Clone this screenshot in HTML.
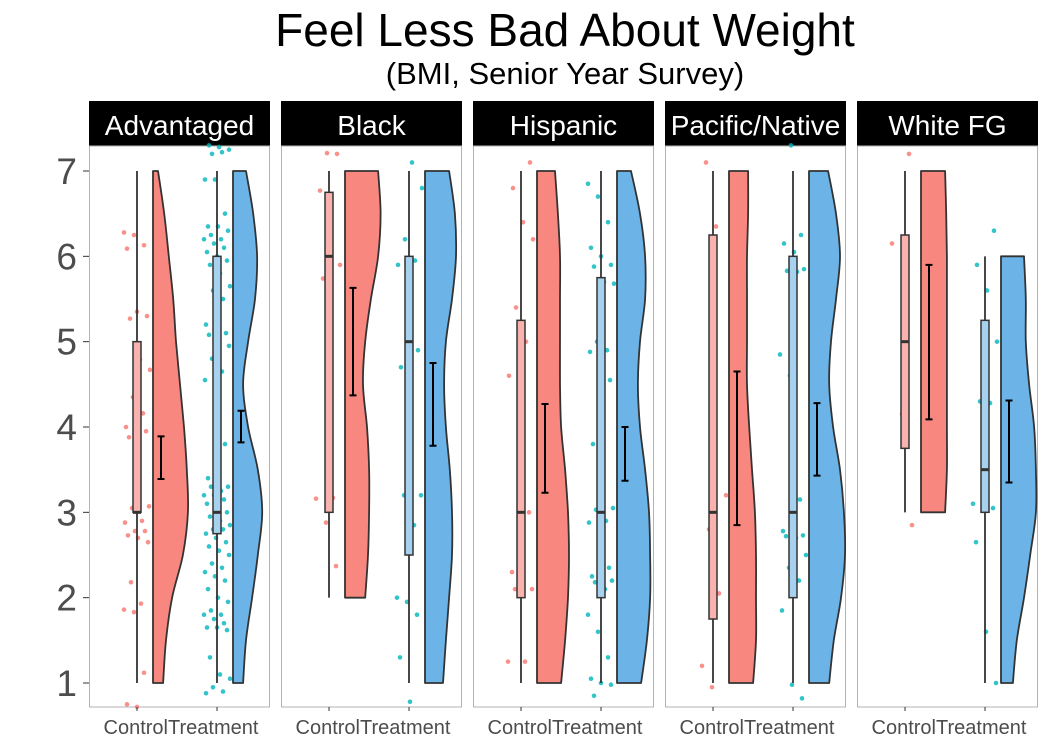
<!DOCTYPE html>
<html><head><meta charset="utf-8"><style>
body{margin:0;background:#fff;}
svg{display:block;font-family:"Liberation Sans",sans-serif;}
</style></head><body>
<svg id="chart" width="1050" height="750" viewBox="0 0 1050 750">
<text x="565" y="46" font-size="46" text-anchor="middle" fill="#000">Feel Less Bad About Weight</text>
<text x="565" y="84" font-size="31" text-anchor="middle" fill="#000">(BMI, Senior Year Survey)</text>
</svg>
<script>
const panels = ["Advantaged","Black","Hispanic","Pacific/Native","White FG"];
const groups = ["Control","Treatment"];
const yTicks = [1,2,3,4,5,6,7];
const densLevels = [7,6.5,6,5.5,5,4.5,4,3.5,3,2.5,2,1.5,1];
const densControl = [
 [.14,.31,.44,.56,.64,.75,.86,.94,.97,.83,.53,.36,.28],
 [.92,.99,.92,.72,.56,.5,.61,.67,.67,.64,.56,null,null],
 [.5,.58,.64,.64,.64,.64,.67,.78,.86,.89,.86,.78,.67],
 [.53,.53,.5,.5,.5,.5,.56,.64,.72,.75,.75,.75,.67],
 [.67,.7,.72,.72,.72,.72,.72,.72,.67,null,null,null,null]];
const densTreatment = [
 [.36,.56,.67,.61,.42,.28,.42,.69,.81,.69,.53,.36,.28],
 [.67,.83,.86,.75,.58,.53,.58,.69,.75,.75,.67,.58,.5],
 [.39,.64,.78,.78,.64,.58,.64,.78,.89,.92,.92,.83,.67],
 [.53,.75,.86,.75,.61,.56,.67,.86,.97,1,.89,.69,.56],
 [null,null,.64,.69,.69,.78,.92,.97,.97,.81,.64,.44,.33]];
// box stats: [min, q1, median, q3, max]
const boxControl = [[1,3,3,5,7],[2,3,6,6.75,7],[1,2,3,5.25,7],[1,1.75,3,6.25,7],[3,3.75,5,6.25,7]];
const boxTreatment = [[1,2.75,3,6,7],[1,2.5,5,6,7],[1,2,3,5.75,7],[1,2,3,6,7],[1,3,3.5,5.25,6]];
// mean CI: [low, high]
const ciControl = [[3.39,3.89],[4.37,5.63],[3.23,4.27],[2.85,4.65],[4.09,5.9]];
const ciTreatment = [[3.82,4.19],[3.78,4.75],[3.37,4.0],[3.43,4.28],[3.35,4.31]];
const ptsControl = [
 [6.28,6.25,6.13,6.09,5.35,5.3,5.27,4.79,4.67,4.35,4.16,4.0,3.99,3.95,3.88,3.32,3.07,3.05,2.9,2.88,2.78,2.78,2.73,2.7,2.65,2.18,1.93,1.86,1.83,1.12,0.75,0.72],
 [7.21,7.2,6.77,6.0,5.9,5.74,3.17,3.16,2.88,2.37],
 [7.1,6.8,6.4,6.2,5.4,5.0,4.6,3.2,3.0,2.3,2.2,2.1,2.1,1.25,1.25],
 [7.1,6.35,3.2,2.8,2.05,1.2,0.95],
 [7.2,6.15,4.15,2.85]];
const ptsTreatment = [
 [7.3,7.28,7.25,7.2,7.22,6.9,6.9,6.5,6.35,6.35,6.3,6.25,6.2,6.2,6.15,6.1,6.05,6.0,5.95,5.9,5.8,5.65,5.6,5.5,5.2,5.15,5.1,5.08,5.05,4.95,4.8,4.65,4.55,4.2,3.8,3.4,3.35,3.3,3.3,3.25,3.2,3.2,3.15,3.1,3.05,3.0,2.95,2.9,2.85,2.8,2.8,2.75,2.7,2.65,2.6,2.55,2.5,2.4,2.35,2.3,2.25,2.2,2.1,2.0,1.95,1.85,1.8,1.8,1.75,1.7,1.65,1.65,1.62,1.3,1.1,1.05,0.95,0.9,0.88],
 [7.1,6.8,6.2,5.95,5.9,5.88,4.9,4.7,3.25,3.2,3.2,2.85,2.0,1.95,1.8,1.3,0.78],
 [6.85,6.7,6.4,6.1,6.0,5.9,5.88,5.7,5.68,5.0,4.9,4.88,4.6,4.55,3.8,3.2,3.05,3.03,2.9,2.88,2.86,2.35,2.25,2.23,2.2,2.18,2.1,1.8,1.6,1.3,1.05,1.0,0.98,0.85],
 [7.3,6.25,6.15,6.05,5.85,5.83,5.82,4.85,4.6,3.15,2.78,2.75,2.73,2.72,2.7,2.5,2.35,2.2,1.85,0.98,0.82],
 [6.3,5.9,5.6,5.0,4.3,4.28,3.1,3.08,3.05,2.65,1.6,1.0]];

const NS='http://www.w3.org/2000/svg';
const svg=document.getElementById('chart');
const PX0=89, PW=181, GAP=11, PY0=146, PY1=707;
const yS=v=>171+(7-v)*(683-171)/6;
const panelX=i=>PX0+i*(PW+GAP);
const catX=(i,g)=>panelX(i)+(g===0?48:128);
function mk(tag,attrs,parent){const e=document.createElementNS(NS,tag);for(const k in attrs)e.setAttribute(k,attrs[k]);(parent||svg).appendChild(e);return e;}

yTicks.forEach(t=>{
  const tx=mk('text',{x:77,y:yS(t)+13,'font-size':37,'text-anchor':'end',fill:'#4d4d4d'});
  tx.textContent=t;
  
  
  const tk=mk('line',{x1:83,x2:89,y1:yS(t),y2:yS(t),stroke:'#333','stroke-width':1});
  
  
});

function smoothPath(p){
  let d='';
  for(let j=0;j<p.length-1;j++){
    const p0=p[Math.max(j-1,0)],p1=p[j],p2=p[j+1],p3=p[Math.min(j+2,p.length-1)];
    const c1=[p1[0]+(p2[0]-p0[0])/6,p1[1]+(p2[1]-p0[1])/6];
    const c2=[p2[0]-(p3[0]-p1[0])/6,p2[1]-(p3[1]-p1[1])/6];
    d+=` C${c1[0].toFixed(1)},${c1[1].toFixed(1)} ${c2[0].toFixed(1)},${c2[1].toFixed(1)} ${p2[0].toFixed(1)},${p2[1].toFixed(1)}`;
  }
  return d;
}

const fills={v:['#f8877f','#6cb4e8'],b:['#f9b3ae','#a6d2f0'],p:['#f8766d','#00b5bc']};
panels.forEach((name,i)=>{
  const px=panelX(i);
  const g=mk('g',{});
  
  
  const strip=mk('rect',{x:px,y:101,width:PW,height:45,fill:'#000'},g);
  
  
  const st=mk('text',{x:px+PW/2,y:135,'font-size':28,'text-anchor':'middle',fill:'#fff'},g);
  st.textContent=name;
  
  
  if(st.getComputedTextLength && st.getComputedTextLength()>PW-6){st.setAttribute('textLength',PW-6);st.setAttribute('lengthAdjust','spacingAndGlyphs');}
  const bg=mk('rect',{x:px+0.5,y:PY0,width:PW-1,height:PY1-PY0,fill:'#fff',stroke:'#b3b3b3','stroke-width':1},g);
  
  
  [0,1].forEach(k=>{
    const cx=catX(i,k);
    const dens=(k?densTreatment:densControl)[i], box=(k?boxTreatment:boxControl)[i], ci=(k?ciTreatment:ciControl)[i], pts=(k?ptsTreatment:ptsControl)[i];
    const left=cx+16; const valid=[];
    densLevels.forEach((lv,j)=>{if(dens[j]!=null)valid.push([left+dens[j]*36,yS(lv)]);});
    let d='M'+left+','+valid[0][1]+' L'+valid[0][0].toFixed(1)+','+valid[0][1];
    d+=smoothPath(valid);
    d+=' L'+left+','+valid[valid.length-1][1]+' Z';
    const vi=mk('path',{d:d,fill:fills.v[k],stroke:'#333','stroke-width':1.8,'stroke-linejoin':'round'},g);
    
    
    pts.forEach((v,j)=>{
      const jit=((j*37+i*11+k*5)%27)-13;
      const c=mk('circle',{cx:cx+jit,cy:yS(v),r:2.3,fill:fills.p[k],'fill-opacity':0.8},g);
      
      
    });
    const wh=mk('line',{x1:cx,x2:cx,y1:yS(box[0]),y2:yS(box[4]),stroke:'#333','stroke-width':1.8},g);
    
    
    const bx=mk('rect',{x:cx-4,y:yS(box[3]),width:8,height:yS(box[1])-yS(box[3]),fill:fills.b[k],stroke:'#333','stroke-width':1.5},g);
    
    
    const md=mk('line',{x1:cx-4,x2:cx+4,y1:yS(box[2]),y2:yS(box[2]),stroke:'#333','stroke-width':3},g);
    
    
    const ex=cx+24;
    const eg=mk('path',{d:`M${ex},${yS(ci[0])}V${yS(ci[1])}M${ex-3.5},${yS(ci[0])}H${ex+3.5}M${ex-3.5},${yS(ci[1])}H${ex+3.5}`,stroke:'#000','stroke-width':2,fill:'none'},g);
    
    
    const xl=mk('text',{x:px+79,y:734,'font-size':20,'text-anchor':k?'start':'end',fill:'#4d4d4d'},g);
    xl.textContent=groups[k];
    
    
    const xt=mk('line',{x1:cx,x2:cx,y1:PY1,y2:PY1+4,stroke:'#333','stroke-width':1},g);
    
    
  });
});
</script>
</body></html>
